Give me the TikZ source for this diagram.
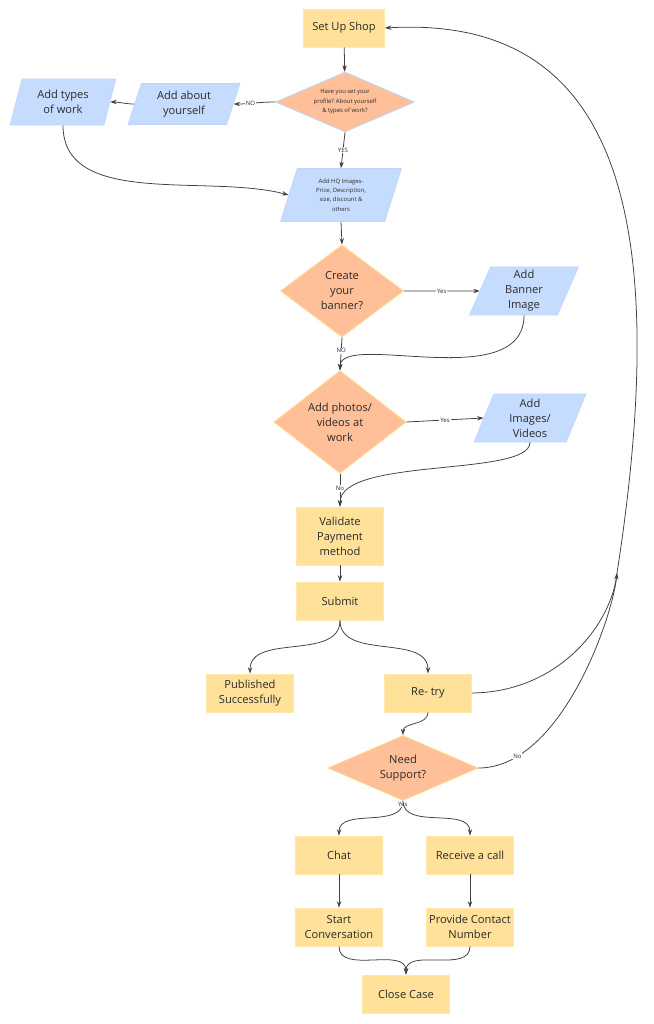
\documentclass[tikz,border=0pt]{standalone}
\usepackage{fontspec}
\setmainfont{Open Sans}
\usepackage{tikz}
\usetikzlibrary{shapes.geometric,arrows.meta,positioning}
\usepackage{xcolor}
\definecolor{shopyellow}{HTML}{FFE199}
\definecolor{shopyellowline}{HTML}{FFE8AE}
\definecolor{shoporange}{HTML}{FFBF99}
\definecolor{shoporangeline}{HTML}{FFD98C}
\definecolor{shopblue}{HTML}{C6DCFF}
\definecolor{shopblueline}{HTML}{BFD6FA}
\definecolor{shoptext}{HTML}{2B2B2B}
\definecolor{shopline}{HTML}{404040}
\newcommand{\bodyfont}{\fontsize{7.9}{10.7}\selectfont}
\newcommand{\smallfont}{\fontsize{4.2}{6.7}\selectfont}
\newcommand{\lblfont}{\fontsize{4.3}{5}\selectfont}

\begin{document}
\begin{tikzpicture}[x=0.025cm, y=-0.025cm,
    shopbox/.style={rectangle, fill=shopyellow, draw=shopyellowline, line width=0.6pt,
        minimum width=2.175cm, minimum height=0.95cm, inner sep=1pt,
        align=center, font=\bodyfont, text=shoptext},
    decision/.style={diamond, fill=shoporange, draw=shoporangeline, line width=0.6pt,
        inner sep=0pt, align=center, font=\bodyfont, text=shoptext},
    datain/.style={trapezium, trapezium left angle=63, trapezium right angle=117,
        trapezium stretches body, fill=shopblue, draw=shopblueline, line width=0.4pt,
        inner sep=0pt, align=center, font=\bodyfont, text=shoptext},
    conn/.style={-{Stealth[length=1.6mm,width=1.1mm]}, line width=0.55pt, shopline},
    lbl/.style={font=\lblfont, fill=white, inner sep=0.6pt, text=shoptext}
]
    \useasboundingbox (0,0) rectangle (653,1024);

    % shop set-up
    \node[shopbox, minimum width=2.03cm] (shop) at (344,28) {Set Up Shop};
    \node[decision, draw=shopblueline, aspect=2.3, minimum width=3.475cm, minimum height=1.5cm, font=\smallfont]
        (profile) at (345,102) {Have you set your\\profile? About yourself\\\& types of work?};
    \node[datain, minimum width=2.8cm, minimum height=1.025cm] (about) at (184,104) {Add about\\yourself};
    \node[datain, minimum width=2.65cm, minimum height=1.15cm] (types) at (63,102) {Add types\\of work};
    \node[datain, minimum width=3.025cm, minimum height=1.325cm, font=\smallfont] (hq) at (341,195)
        {Add HQ Images-\\Price, Description,\\size, discount \&\\others};

    % banner and media
    \node[decision, minimum width=3.075cm, minimum height=2.3cm] (banner) at (342,291) {Create\\your\\banner?};
    \node[datain, minimum width=2.725cm, minimum height=1.2cm] (addbanner) at (524,291) {Add\\Banner\\Image};
    \node[decision, minimum width=3.3cm, minimum height=2.45cm] (photos) at (340,422) {Add photos/\\videos at\\work};
    \node[datain, minimum width=2.8cm, minimum height=1.2cm] (addmedia) at (530,418) {Add\\Images/\\Videos};

    % payment and submit
    \node[shopbox, minimum height=1.45cm] (validate) at (340,536) {Validate\\Payment\\method};
    \node[shopbox] (submit) at (340,601) {Submit};
    \node[shopbox] (published) at (250,693) {Published\\Successfully};
    \node[shopbox] (retry) at (428,693) {Re- try};

    % support
    \node[decision, aspect=2.3, minimum width=3.75cm, minimum height=1.625cm] (support) at (403,768) {Need\\Support?};
    \node[shopbox] (chat) at (339,855) {Chat};
    \node[shopbox] (call) at (470,855) {Receive a call};
    \node[shopbox] (conv) at (339,927) {Start\\Conversation};
    \node[shopbox] (contact) at (470,927) {Provide Contact\\Number};
    \node[shopbox] (close) at (406,994) {Close Case};

    \coordinate (merge) at (617,573);

    \draw[conn] (shop) -- (profile);
    \draw[conn] (profile.west) to[out=180,in=0] node[lbl, pos=0.6] {NO} (about.east);
    \draw[conn] (about.west) to[out=180,in=0] (types.east);
    \draw[conn] (types.south) to[out=-90,in=165, looseness=0.9] (hq.west);
    \draw[conn] (profile.south) -- node[lbl] {YES} (hq.north);
    \draw[conn] (hq.south) -- (banner.north);
    \draw[conn] (banner.east) -- node[lbl] {Yes} (addbanner.west);
    \draw[conn] (banner.south) -- node[lbl, pos=0.4] {NO} (photos.north);
    \draw[conn] (addbanner.south) .. controls +(0,80) and +(0,-40) .. (photos.north);
    \draw[conn] (photos.east) -- node[lbl] {Yes} (addmedia.west);
    \draw[conn] (photos.south) -- node[lbl, pos=0.45] {No} (validate.north);
    \draw[conn] (addmedia.south) .. controls +(0,35) and +(0,-50) .. (validate.north);
    \draw[conn] (validate) -- (submit);
    \draw[conn] (submit.south) to[out=-90,in=90] (published.north);
    \draw[conn] (submit.south) to[out=-90,in=90] (retry.north);

    % back to the start
    \draw[conn] (retry.east) .. controls (560,692) and (612,623) .. (merge)
        .. controls (675,200) and (610,15) .. (shop.east);
    \draw[conn] (retry.south) to[out=-90,in=90] (support.north);
    \draw[conn] (support.east) .. controls (560,768) and (612,620) .. node[lbl, pos=0.17] {No} (merge);

    \draw[conn] (support.south) to[out=-90,in=90] node[lbl, pos=0.04] {Yes} (chat.north);
    \draw[conn] (support.south) to[out=-90,in=90] (call.north);
    \draw[conn] (chat) -- (conv);
    \draw[conn] (call) -- (contact);
    \draw[conn] (conv.south) to[out=-90,in=90] (close.north);
    \draw[conn] (contact.south) to[out=-90,in=90] (close.north);
\end{tikzpicture}
\end{document}
